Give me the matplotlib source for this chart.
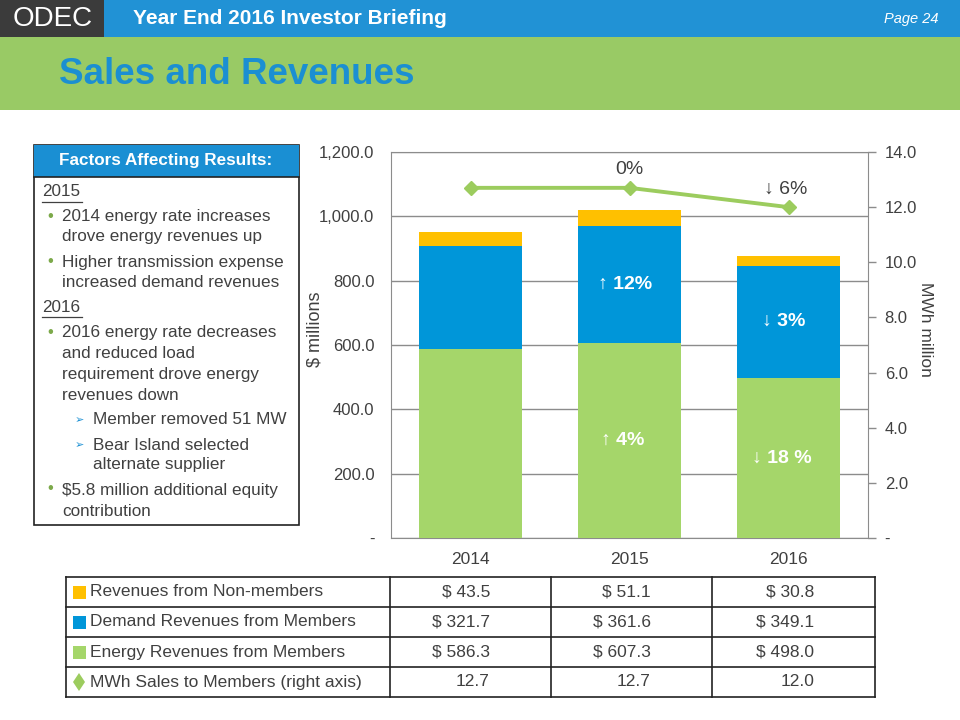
import numpy as np
from matplotlib import pyplot as plt
from matplotlib.patches import Rectangle, Polygon
from matplotlib.ticker import FuncFormatter

plt.rcParams['font.family'] = ['Liberation Sans', 'DejaVu Sans']

# Data
years = ['2014', '2015', '2016']
non_members = [43.5, 51.1, 30.8]
demand = [321.7, 361.6, 349.1]
energy = [586.3, 607.3, 498.0]
mwh_sales = [12.7, 12.7, 12.0]
series_names = ['Revenues from Non-members', 'Demand Revenues from Members',
                'Energy Revenues from Members', 'MWh Sales to Members (right axis)']
energy_change = ['', '\u2191 4%', '\u2193 18 %']
demand_change = ['', '\u2191 12%', '\u2193 3%']
mwh_change = ['', '0%', '\u2193 6%']

# Colours
c_yellow = '#ffc000'
c_blue = '#0096d9'
c_green = '#a5d66a'
c_line = '#9ccc5e'
c_text = '#404040'
c_grid = '#8c8c8c'

W, H = 960, 720
fig = plt.figure(figsize=(9.6, 7.2), dpi=100)
fig.set_facecolor('white')


def fx(x):
    return x / W


def fy(y):
    return 1 - y / H


def rect(x0, y0, x1, y1, **kw):
    fig.patches.append(Rectangle((fx(x0), fy(y1)), fx(x1) - fx(x0), fy(y0) - fy(y1),
                                 transform=fig.transFigure, **kw))


def hline(x0, x1, y, **kw):
    fig.add_artist(plt.Line2D([fx(x0), fx(x1)], [fy(y), fy(y)], transform=fig.transFigure, **kw))


def vline(x, y0, y1, **kw):
    fig.add_artist(plt.Line2D([fx(x), fx(x)], [fy(y0), fy(y1)], transform=fig.transFigure, **kw))


# Header bands
rect(0, 37, 960, 110, color='#99ca65', lw=0)
rect(0, 0, 960, 37, color='#2192d5', lw=0)
rect(0, 0, 104, 37, color='#3b3b3b', lw=0)
fig.text(fx(53), fy(19), 'ODEC', color='white', fontsize=20, ha='center', va='center')
fig.text(fx(133), fy(19), 'Year End 2016 Investor Briefing', color='white', fontsize=15,
         fontweight='bold', ha='left', va='center')
fig.text(fx(938), fy(19), 'Page 24', color='white', fontsize=10.5, style='italic',
         ha='right', va='center')
fig.text(fx(59), fy(74), 'Sales and Revenues', color='#1b8fd2', fontsize=26.5,
         fontweight='bold', ha='left', va='center')

# Factors box
rect(34, 145, 299, 525, fill=False, ec='#222222', lw=1.2)
rect(34, 145, 299, 177, color='#1a8fd3', lw=0)
hline(34, 299, 177, color='#222222', lw=1.2)
fig.text(fx(166), fy(161), 'Factors Affecting Results:', color='white', fontsize=12.3,
         fontweight='bold', ha='center', va='center')

box_lines = [
    ('year', '2015', 192),
    ('bullet', '2014 energy rate increases', 217),
    ('cont', 'drove energy revenues up', 237),
    ('bullet', 'Higher transmission expense', 262),
    ('cont', 'increased demand revenues', 283),
    ('year', '2016', 307),
    ('bullet', '2016 energy rate decreases', 333),
    ('cont', 'and reduced load', 353),
    ('cont', 'requirement drove energy', 374),
    ('cont', 'revenues down', 395),
    ('sub', 'Member removed 51 MW', 420),
    ('sub', 'Bear Island selected', 445),
    ('subcont', 'alternate supplier', 465),
    ('bullet', '$5.8 million additional equity', 490),
    ('cont', 'contribution', 511),
]
for kind, txt, y in box_lines:
    if kind == 'year':
        fig.text(fx(42), fy(y), txt, color=c_text, fontsize=12.3, va='center')
        hline(42, 82, y + 10, color=c_text, lw=0.9)
    elif kind in ('bullet', 'cont'):
        if kind == 'bullet':
            fig.text(fx(47), fy(y - 1), '\u2022', color='#7ca94a', fontsize=12, va='center')
        fig.text(fx(62), fy(y), txt, color=c_text, fontsize=12.3, va='center')
    else:
        if kind == 'sub':
            fig.text(fx(75), fy(y), '\u27a2', color='#1a8fd3', fontsize=8, va='center',
                     family=['DejaVu Sans'])
        fig.text(fx(93), fy(y), txt, color=c_text, fontsize=12.3, va='center')

# Chart
ax = fig.add_axes([fx(391), fy(538), fx(868) - fx(391), fy(152) - fy(538)])
x = np.arange(len(years))
bw = 0.65
energy_a = np.array(energy)
demand_a = np.array(demand)
ax.bar(x, energy_a, bw, color=c_green, zorder=3)
ax.bar(x, demand_a, bw, bottom=energy_a, color=c_blue, zorder=3)
ax.bar(x, non_members, bw, bottom=energy_a + demand_a, color=c_yellow, zorder=3)
ax.set_xlim(-0.5, 2.5)
ax.set_ylim(0, 1200)
ax.set_yticks(np.arange(0, 1201, 200))
ax.yaxis.set_major_formatter(FuncFormatter(lambda v, p: '-' if v == 0 else f'{v:,.1f}'))
ax.set_xticks(x)
ax.set_xticklabels(years)
ax.tick_params(axis='y', length=0, labelsize=12, colors=c_text, pad=12)
ax.tick_params(axis='x', length=0, labelsize=12.5, colors=c_text, pad=10)
ax.grid(axis='y', color=c_grid, lw=1, zorder=0)
for s in ax.spines.values():
    s.set_color(c_grid)
ax.set_ylabel('$ millions', fontsize=13, color=c_text)
ax.yaxis.set_label_coords(-0.141, 0.54)

for i in x:
    if energy_change[i]:
        ax.text(i - 0.04, energy[i] * 0.5, energy_change[i], color='white', fontsize=14,
                fontweight='bold', ha='center', va='center', zorder=5)
    if demand_change[i]:
        ax.text(i - 0.03, energy[i] + demand[i] * 0.5, demand_change[i], color='white',
                fontsize=14, fontweight='bold', ha='center', va='center', zorder=5)

ax2 = ax.twinx()
ax2.set_ylim(0, 14)
ax2.set_yticks(np.arange(0, 14.1, 2))
ax2.yaxis.set_major_formatter(FuncFormatter(lambda v, p: '-' if v == 0 else f'{v:.1f}'))
ax2.tick_params(axis='y', length=6, width=1, color=c_grid, labelsize=12, labelcolor=c_text,
                pad=6)
for s in ax2.spines.values():
    s.set_visible(False)
ax2.plot(x, mwh_sales, color=c_line, lw=2.8, marker='D', markersize=7, zorder=6)
ax2.set_ylabel('MWh million', fontsize=12.5, color=c_text, rotation=270, va='bottom')
ax2.yaxis.set_label_coords(1.104, 0.54)
for i in x:
    if mwh_change[i]:
        ax2.text(i + (0.0 if i == 1 else -0.02), mwh_sales[i] + 0.65, mwh_change[i],
                 color=c_text, fontsize=14, ha='center', va='center')

# Table
tx = [66, 390, 551, 712, 875]
ty = [577, 607, 637, 667, 697]
for y in ty:
    hline(tx[0], tx[-1], y, color='#222222', lw=1.2)
for xx in tx:
    vline(xx, ty[0], ty[-1], color='#222222', lw=1.2)

rows = [non_members, demand, energy, mwh_sales]
sw_colors = [c_yellow, c_blue, c_green, c_line]
for r, (name, vals) in enumerate(zip(series_names, rows)):
    yc = (ty[r] + ty[r + 1]) / 2
    if r < 3:
        fig.patches.append(Rectangle((fx(73), fy(yc + 7)), fx(13), 13 / H,
                                     transform=fig.transFigure, color=sw_colors[r], lw=0))
    else:
        fig.patches.append(Polygon([(fx(79), fy(yc - 9)), (fx(85), fy(yc)),
                                    (fx(79), fy(yc + 9)), (fx(73), fy(yc))],
                                   transform=fig.transFigure, color=sw_colors[r], lw=0))
    fig.text(fx(90), fy(yc), name, color=c_text, fontsize=12.5, va='center')
    for c, v in enumerate(vals):
        s = f'{v:.1f}' if r == 3 else f'$ {v:.1f}'
        fig.text(fx(tx[c + 2] - 61), fy(yc), s, color=c_text, fontsize=12.5,
                 ha='right', va='center')

fig.savefig('out.png', dpi=100)
